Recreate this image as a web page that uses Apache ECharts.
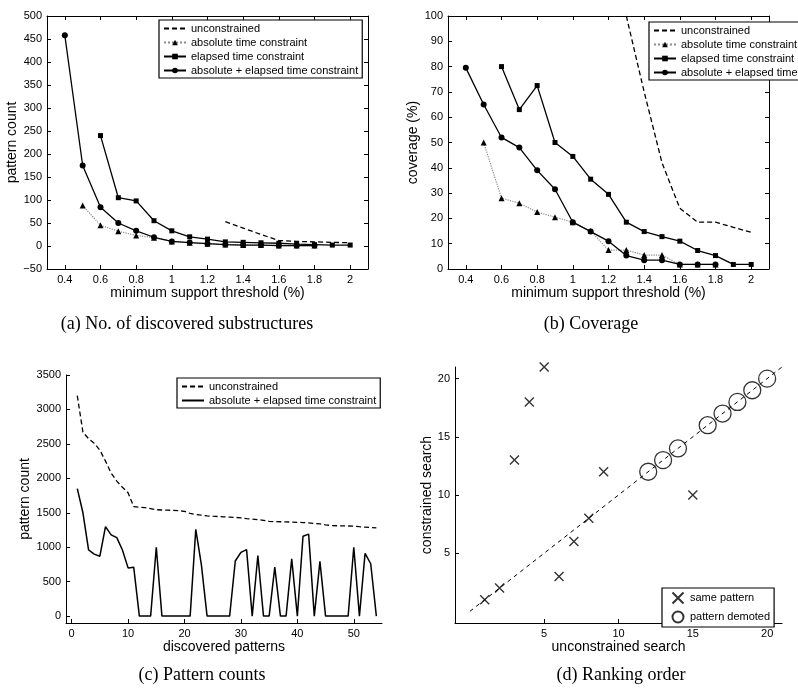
<!DOCTYPE html>
<html>
<head>
<meta charset="utf-8">
<title>Time constraint experiments</title>
<script src="https://cdn.jsdelivr.net/npm/echarts@6/dist/echarts.min.js"></script>
<style>
  html, body { margin: 0; padding: 0; background: #fff; }
  #chart { width: 798px; height: 691px; }
</style>
</head>
<body>
<div id="chart"></div>
<script>
// shared x values of (a) and (b)
const thresholds = [0.4, 0.5, 0.6, 0.7, 0.8, 0.9, 1.0, 1.1, 1.2, 1.3, 1.4, 1.5, 1.6, 1.7, 1.8, 1.9, 2.0]
const thresholdTicks = [0.4, 0.6, 0.8, 1, 1.2, 1.4, 1.6, 1.8, 2]

// (a) no. of discovered substructures
const countUnconstrained = [null, null, null, null, null, null, null, null, null, 53, 39, 25, 12, 10, 9, 8, 7]
const countAbsolute = [null, 88, 45, 32, 23, 18, 10, 7, 5, 3, 2, 2, 1, 1, 1, null, null]
const countElapsed = [null, null, 240, 105, 98, 55, 33, 20, 15, 9, 8, 7, 6, 4, 3, 2, 2]
const countCombined = [458, 175, 84, 50, 33, 19, 10, 7.5, 5, 3, 2, 2, 1, 1, 1, null, null]
const countTicks = [-50, 0, 50, 100, 150, 200, 250, 300, 350, 400, 450, 500]

// (b) coverage
const coverageUnconstrained = [null, null, null, null, null, null, null, null, null, 100, 70, 42, 24, 18.5, 18.5, 16.5, 14.5]
const coverageAbsolute = [null, 50, 28, 26, 22.5, 20.5, 18.5, 15, 7.5, 7.5, 5.5, 5.5, 1.8, 1.8, 1.8, null, null]
const coverageElapsed = [null, null, 80, 63, 72.5, 50, 44.5, 35.5, 29.5, 18.5, 14.8, 12.8, 11, 7.3, 5.3, 1.8, 1.8]
const coverageCombined = [79.5, 65, 52, 48, 39, 31.5, 18.5, 14.8, 11, 5.3, 3.5, 3.5, 1.8, 1.8, 1.8, null, null]
const coverageTicks = [0, 10, 20, 30, 40, 50, 60, 70, 80, 90, 100]

// (c) pattern counts
const patternIds = [1, 2, 3, 4, 5, 6, 7, 8, 9, 10, 11, 12, 13, 14, 15, 16, 17, 18, 19, 20, 21, 22, 23, 24, 25, 26, 27,
  28, 29, 30, 31, 32, 33, 34, 35, 36, 37, 38, 39, 40, 41, 42, 43, 44, 45, 46, 47, 48, 49, 50, 51, 52, 53, 54]
const patternUnconstrained = [3200, 2670, 2575, 2510, 2410, 2250, 2075, 1960, 1870, 1790, 1590, 1580, 1575, 1560,
  1545, 1540, 1538, 1535, 1530, 1520, 1490, 1475, 1465, 1455, 1450, 1445, 1440, 1437, 1433, 1425, 1415, 1408, 1400,
  1390, 1375, 1372, 1370, 1368, 1365, 1362, 1358, 1352, 1345, 1338, 1325, 1315, 1312, 1310, 1308, 1305, 1298, 1292,
  1285, 1280]
const patternCombined = [1850, 1500, 960, 900, 870, 1300, 1180, 1140, 960, 700, 710, 0, 0, 0, 1000, 0, 0, 0, 0, 0,
  0, 1260, 740, 0, 0, 0, 0, 0, 800, 925, 965, 0, 880, 0, 0, 710, 0, 0, 830, 0, 1160, 1190, 0, 795, 0, 0, 0, 0, 0,
  1000, 0, 910, 760, 0]
const patternIdTicks = [0, 10, 20, 30, 40, 50]
const patternCountTicks = [0, 500, 1000, 1500, 2000, 2500, 3000, 3500]

// (d) ranking order: [unconstrained rank, constrained rank]
const samePatternRanks = [[1, 1], [2, 2], [3, 13], [4, 18], [5, 21], [6, 3], [7, 6], [8, 8], [9, 12], [15, 10]]
const demotedRanks = [[12, 12], [13, 13], [14, 14], [16, 16], [17, 17], [18, 18], [19, 19], [20, 20]]
const diagonal = [[0, 0], [21, 21]]
const rankTicks = [5, 10, 15, 20]

const FONT = 'Liberation Sans'
const SERIF = 'Liberation Serif'
const black = '#000'

function pairs (xs, ys) {
  return xs.map((x, i) => [x, ys[i]]).filter(p => p[1] !== null)
}

function valueAxis (opt) {
  return {
    type: 'value',
    gridIndex: opt.grid,
    position: opt.position,
    min: opt.min,
    max: opt.max,
    name: opt.name,
    nameLocation: 'middle',
    nameGap: opt.nameGap,
    nameTextStyle: { fontFamily: FONT, fontSize: 14, color: black },
    axisLine: { show: true, onZero: false, lineStyle: { color: black, width: 1 } },
    axisTick: { show: true, inside: true, length: 4, customValues: opt.ticks, lineStyle: { color: black, width: 1 } },
    axisLabel: {
      show: opt.labels !== false,
      customValues: opt.ticks,
      fontFamily: FONT,
      fontSize: 11,
      color: black,
      margin: 5,
      formatter: v => String(v).replace('-', '\u2212')
    },
    splitLine: { show: false }
  }
}

function lineSeries (name, axis, data, style) {
  return {
    name,
    type: 'line',
    xAxisIndex: axis,
    yAxisIndex: axis,
    data,
    symbol: style.symbol || 'none',
    symbolSize: style.size || 5,
    showSymbol: !!style.symbol,
    lineStyle: { color: style.lineColor || black, width: style.width || 1.3, type: style.type || 'solid' },
    itemStyle: { color: black },
    z: style.z || 2
  }
}

// legend entry of a plain line: hide the marker drawn in the icon
function plainEntry (name) {
  return { name, itemStyle: { opacity: 0 } }
}

function legendBox (opt) {
  return {
    orient: 'vertical',
    left: opt.left,
    top: opt.top,
    data: opt.data,
    formatter: name => name.split('|')[1],
    itemWidth: opt.itemWidth || 22,
    itemHeight: opt.itemHeight || 7,
    itemGap: opt.itemGap || 3,
    padding: opt.padding || [3, 4, 2, 4],
    backgroundColor: '#fff',
    borderColor: black,
    borderWidth: 1.2,
    borderRadius: 0,
    selectedMode: false,
    textStyle: { fontFamily: FONT, fontSize: 11, color: black }
  }
}

function caption (text, x, y) {
  return {
    type: 'text',
    x,
    y,
    style: { text, fill: black, font: `18px "${SERIF}"`, align: 'center', verticalAlign: 'middle' }
  }
}

const dashed = [5, 3]

const option = {
  animation: false,
  backgroundColor: '#fff',
  grid: [
    { left: 47, top: 16, width: 321, height: 253, outerBoundsMode: 'none' },
    { left: 448, top: 16, width: 321, height: 253, outerBoundsMode: 'none' },
    { left: 66, top: 375, width: 316, height: 248, outerBoundsMode: 'none' },
    { left: 455, top: 367, width: 327, height: 256, outerBoundsMode: 'none' }
  ],
  xAxis: [
    valueAxis({ grid: 0, position: 'bottom', min: 0.3, max: 2.1, ticks: thresholdTicks, name: 'minimum support threshold (%)', nameGap: 17 }),
    valueAxis({ grid: 0, position: 'top', min: 0.3, max: 2.1, ticks: thresholdTicks, labels: false }),
    valueAxis({ grid: 1, position: 'bottom', min: 0.3, max: 2.1, ticks: thresholdTicks, name: 'minimum support threshold (%)', nameGap: 17 }),
    valueAxis({ grid: 1, position: 'top', min: 0.3, max: 2.1, ticks: thresholdTicks, labels: false }),
    valueAxis({ grid: 2, position: 'bottom', min: -1, max: 55, ticks: patternIdTicks, name: 'discovered patterns', nameGap: 14 }),
    valueAxis({ grid: 3, position: 'bottom', min: -1, max: 21, ticks: rankTicks, name: 'unconstrained search', nameGap: 14 })
  ],
  yAxis: [
    valueAxis({ grid: 0, position: 'left', min: -50, max: 500, ticks: countTicks, name: 'pattern count', nameGap: 27 }),
    valueAxis({ grid: 0, position: 'right', min: -50, max: 500, ticks: countTicks, labels: false }),
    valueAxis({ grid: 1, position: 'left', min: 0, max: 100, ticks: coverageTicks, name: 'coverage (%)', nameGap: 28 }),
    valueAxis({ grid: 1, position: 'right', min: 0, max: 100, ticks: coverageTicks, labels: false }),
    valueAxis({ grid: 2, position: 'left', min: -100, max: 3500, ticks: patternCountTicks, name: 'pattern count', nameGap: 29 }),
    valueAxis({ grid: 3, position: 'left', min: -1, max: 21, ticks: rankTicks, name: 'constrained search', nameGap: 16 })
  ],
  legend: [
    legendBox({ left: 159, top: 20, data: [plainEntry('a|unconstrained'), 'a|absolute time constraint', 'a|elapsed time constraint', 'a|absolute + elapsed time constraint'] }),
    legendBox({ left: 649, top: 22, data: [plainEntry('b|unconstrained'), 'b|absolute time constraint', 'b|elapsed time constraint', 'b|absolute + elapsed time constraint'] }),
    legendBox({ left: 177, top: 378, data: [plainEntry('c|unconstrained'), plainEntry('c|absolute + elapsed time constraint')] }),
    legendBox({ left: 662, top: 588, itemWidth: 14, itemHeight: 11, padding: [2, 4, 2, 8], data: ['d|same pattern', 'd|pattern demoted'] })
  ],
  series: [
    lineSeries('a|unconstrained', 0, pairs(thresholds, countUnconstrained), { type: dashed }),
    lineSeries('a|absolute time constraint', 0, pairs(thresholds, countAbsolute), { symbol: 'triangle', size: 6, lineColor: '#8c8c8c', width: 1.2, type: 'dotted' }),
    lineSeries('a|elapsed time constraint', 0, pairs(thresholds, countElapsed), { symbol: 'rect', size: 5 }),
    lineSeries('a|absolute + elapsed time constraint', 0, pairs(thresholds, countCombined), { symbol: 'circle', size: 6 }),

    lineSeries('b|unconstrained', 2, pairs(thresholds, coverageUnconstrained), { type: dashed }),
    lineSeries('b|absolute time constraint', 2, pairs(thresholds, coverageAbsolute), { symbol: 'triangle', size: 6, lineColor: '#8c8c8c', width: 1.2, type: 'dotted' }),
    lineSeries('b|elapsed time constraint', 2, pairs(thresholds, coverageElapsed), { symbol: 'rect', size: 5 }),
    lineSeries('b|absolute + elapsed time constraint', 2, pairs(thresholds, coverageCombined), { symbol: 'circle', size: 6 }),

    lineSeries('c|unconstrained', 4, pairs(patternIds, patternUnconstrained), { type: dashed }),
    lineSeries('c|absolute + elapsed time constraint', 4, pairs(patternIds, patternCombined), { width: 1.5 }),

    {
      name: 'd|diagonal',
      type: 'line',
      xAxisIndex: 5,
      yAxisIndex: 5,
      data: diagonal,
      symbol: 'none',
      lineStyle: { color: black, width: 1, type: [4, 4] }
    },
    {
      name: 'd|same pattern',
      type: 'scatter',
      xAxisIndex: 5,
      yAxisIndex: 5,
      data: samePatternRanks,
      symbol: 'path://M0,0L10,10M10,0L0,10',
      symbolSize: 9,
      itemStyle: { color: 'none', borderColor: black, borderWidth: 1.4 }
    },
    {
      name: 'd|pattern demoted',
      type: 'scatter',
      xAxisIndex: 5,
      yAxisIndex: 5,
      data: demotedRanks,
      symbol: 'circle',
      symbolSize: 17,
      itemStyle: { color: 'none', borderColor: black, borderWidth: 1.3 }
    }
  ],
  graphic: [
    caption('(a) No. of discovered substructures', 187, 324),
    caption('(b) Coverage', 591, 324),
    caption('(c) Pattern counts', 202, 675),
    caption('(d) Ranking order', 621, 675)
  ]
}

const chart = echarts.init(document.getElementById('chart'))
chart.setOption(option)
</script>
</body>
</html>
